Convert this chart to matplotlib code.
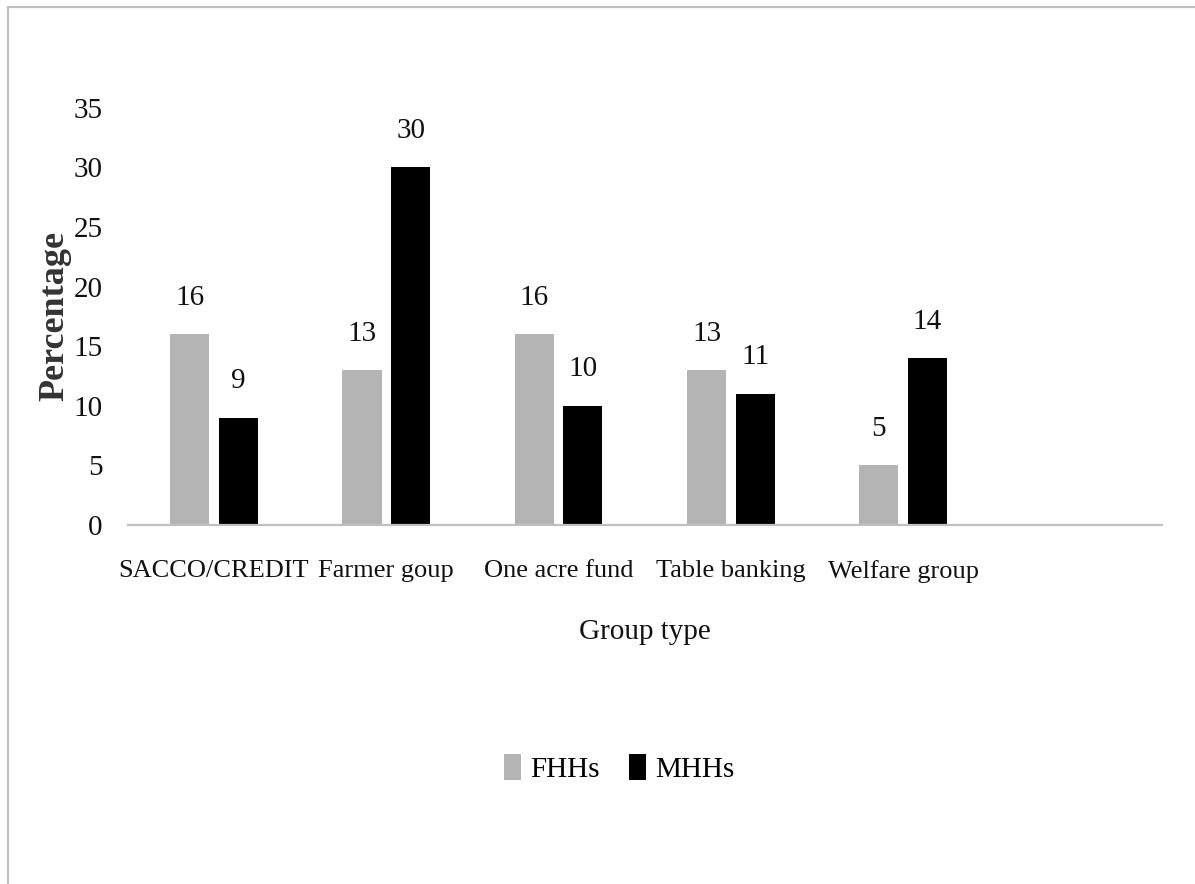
import matplotlib
matplotlib.use("Agg")
import matplotlib.pyplot as plt
from matplotlib.lines import Line2D
import numpy as np

categories = ["SACCO/CREDIT", "Farmer goup", "One acre fund", "Table banking", "Welfare group"]
fhhs = [16, 13, 16, 13, 5]
mhhs = [9, 30, 10, 11, 14]
series_names = ["FHHs", "MHHs"]
yticks = [0, 5, 10, 15, 20, 25, 30, 35]

plt.rcParams["font.family"] = ["Liberation Serif", "DejaVu Serif"]

fig = plt.figure(figsize=(11.95, 8.84), dpi=100)
ax = fig.add_axes([0.107, 0.406, 0.865, 0.472])

x = np.arange(len(categories))
w = 0.227
off = 0.141
gray = "#b4b4b4"
b1 = ax.bar(x - off, fhhs, w, color=gray, label=series_names[0])
b2 = ax.bar(x + off, mhhs, w, color="#000000", label=series_names[1])

for bars, vals in ((b1, fhhs), (b2, mhhs)):
    for rect, v in zip(bars, vals):
        ax.annotate(str(v), (rect.get_x() + rect.get_width() / 2, v),
                    xytext=(0, 17), textcoords="offset points",
                    ha="center", va="bottom", fontsize=21, color="#111111")

ax.set_xlim(-0.5, 5.5)
ax.set_ylim(0, 35)
ax.set_yticks(yticks)
ax.set_xticks(x)
ax.set_xticklabels(categories)
ax.tick_params(axis="both", length=0, labelsize=21, colors="#111111")
ax.tick_params(axis="x", labelsize=19, pad=25)
ax.tick_params(axis="y", pad=18)

for s in ("top", "right", "left"):
    ax.spines[s].set_visible(False)
ax.spines["bottom"].set_color("#c0c0c0")
ax.spines["bottom"].set_linewidth(1.6)

ax.set_xlabel("Group type", fontsize=21, color="#111111", labelpad=26)
ax.set_ylabel("Percentage", fontsize=26, fontweight="bold", color="#333333")
ax.yaxis.set_label_coords(-0.055, 0.5)

fig.legend(handles=[b1, b2], labels=series_names, loc="center",
           bbox_to_anchor=(0.518, 0.131), ncol=2, frameon=False,
           fontsize=21, handlelength=0.6, handleheight=1.0,
           handletextpad=0.3, columnspacing=1.0)

# Chart-area frame: top and left edges
fig.add_artist(Line2D([8 / 1195, 1.0], [1 - 7 / 884, 1 - 7 / 884], transform=fig.transFigure,
                      color="#c0c0c0", linewidth=1.6))
fig.add_artist(Line2D([8 / 1195, 8 / 1195], [0.0, 1 - 7 / 884], transform=fig.transFigure,
                      color="#c0c0c0", linewidth=1.6))

fig.savefig("out.png", dpi=100, facecolor="white")
